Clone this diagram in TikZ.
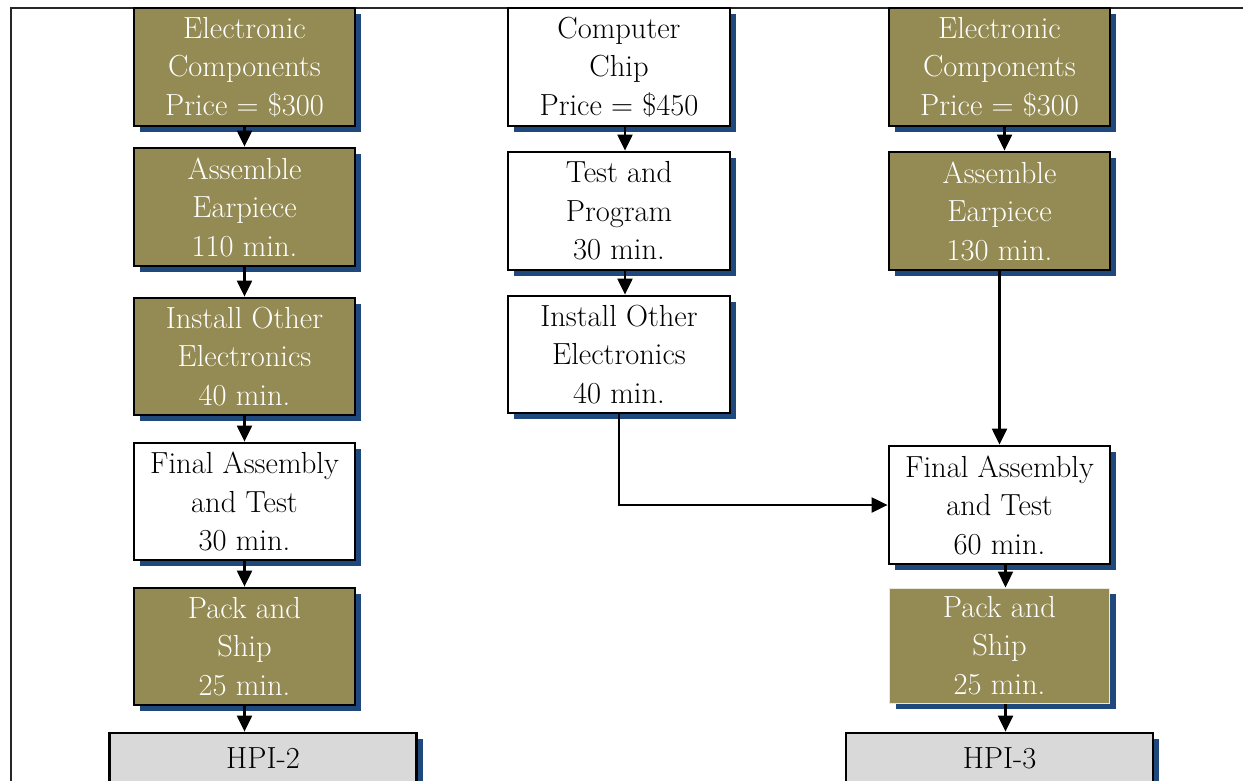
\documentclass[tikz,border=0pt]{standalone}
\usepackage{fontspec}
\setmainfont{Latin Modern Roman}
\usetikzlibrary{arrows.meta,shadows}
\definecolor{olivebox}{RGB}{148,138,84}
\definecolor{shadowblue}{RGB}{31,73,125}
\definecolor{hpigray}{RGB}{217,217,217}
\tikzset{
  boxfont/.style={font=\fontsize{30.5}{38.5}\selectfont},
  proc/.style={draw=black, line width=2.8pt, minimum width=221pt, minimum height=118pt,
    align=center, inner sep=0pt, boxfont,
    drop shadow={shadow xshift=6pt, shadow yshift=-6pt, fill=shadowblue, opacity=1}},
  olive/.style={proc, fill=olivebox, text=white},
  plain/.style={proc, fill=white, text=black},
  hpi/.style={proc, fill=hpigray, text=black, minimum width=307pt, minimum height=52pt},
  flow/.style={draw=black, line width=2.2pt, -{Triangle[length=16pt,width=15pt]}},
}
\begin{document}
\begin{tikzpicture}[x=1pt,y=-1pt]
\useasboundingbox (0,0) rectangle (1243,780);
% page frame
\draw[line width=1.6pt, black!85] (11,790) -- (11,8) -- (1243,8);

% left flow: HPI-2
\node[olive] (L1) at (244.5,67)    {Electronic\\Components\\Price = \$300};
\node[olive] (L2) at (244.5,207)   {Assemble\\Earpiece\\110 min.};
\node[olive, minimum height=117pt] (L3) at (244.5,356.5) {Install Other\\Electronics\\40 min.};
\node[plain, minimum height=117pt] (L4) at (244.5,501.5) {Final Assembly\\and Test\\30 min.};
\node[olive, minimum height=117pt] (L5) at (244.5,646.5) {Pack and\\Ship\\25 min.};
\node[hpi] (H2) at (263,759) {};
\node[boxfont] (H2t) at (263,758) {HPI-2};

% middle flow: computer chip
\node[plain, minimum width=222pt] (M1) at (619,67)    {Computer\\Chip\\Price = \$450};
\node[plain, minimum width=222pt] (M2) at (619,211)   {Test and\\Program\\30 min.};
\node[plain, minimum width=222pt, minimum height=117pt] (M3) at (619,354.5) {Install Other\\Electronics\\40 min.};

% right flow: HPI-3
\node[olive] (R1) at (999.5,67)  {Electronic\\Components\\Price = \$300};
\node[olive] (R2) at (999.5,211) {Assemble\\Earpiece\\130 min.};
\node[plain] (R4) at (999.5,505) {Final Assembly\\and Test\\60 min.};
\node[olive, draw=white!80!olivebox, line width=1pt, minimum width=220pt, minimum height=115pt] (R5) at (999.5,645.5) {Pack and\\Ship\\25 min.};
\node[hpi] (H3) at (999.5,759) {};
\node[boxfont] (H3t) at (999.5,758) {HPI-3};

% connectors
\draw[flow] (L1) -- (L2);
\draw[flow] (L2) -- (L3);
\draw[flow] (L3) -- (L4);
\draw[flow] (L4) -- (L5);
\draw[flow] (L5) -- (H2.north -| L5.south);
\draw[flow] ([xshift=6pt]M1.south) -- ([xshift=6pt]M2.north);
\draw[flow] ([xshift=6pt]M2.south) -- ([xshift=6pt]M3.north);
\draw[flow] (M3.south) |- (R4.west);
\draw[flow] ([xshift=5pt]R1.south) -- ([xshift=5pt]R2.north);
\draw[flow] (R2) -- (R4);
\draw[flow] ([xshift=6pt]R4.south) -- ([xshift=6pt]R5.north);
\draw[flow] ([xshift=6pt]R5.south) -- ([xshift=6pt]H3.north -| R5.south);
\end{tikzpicture}
\end{document}
